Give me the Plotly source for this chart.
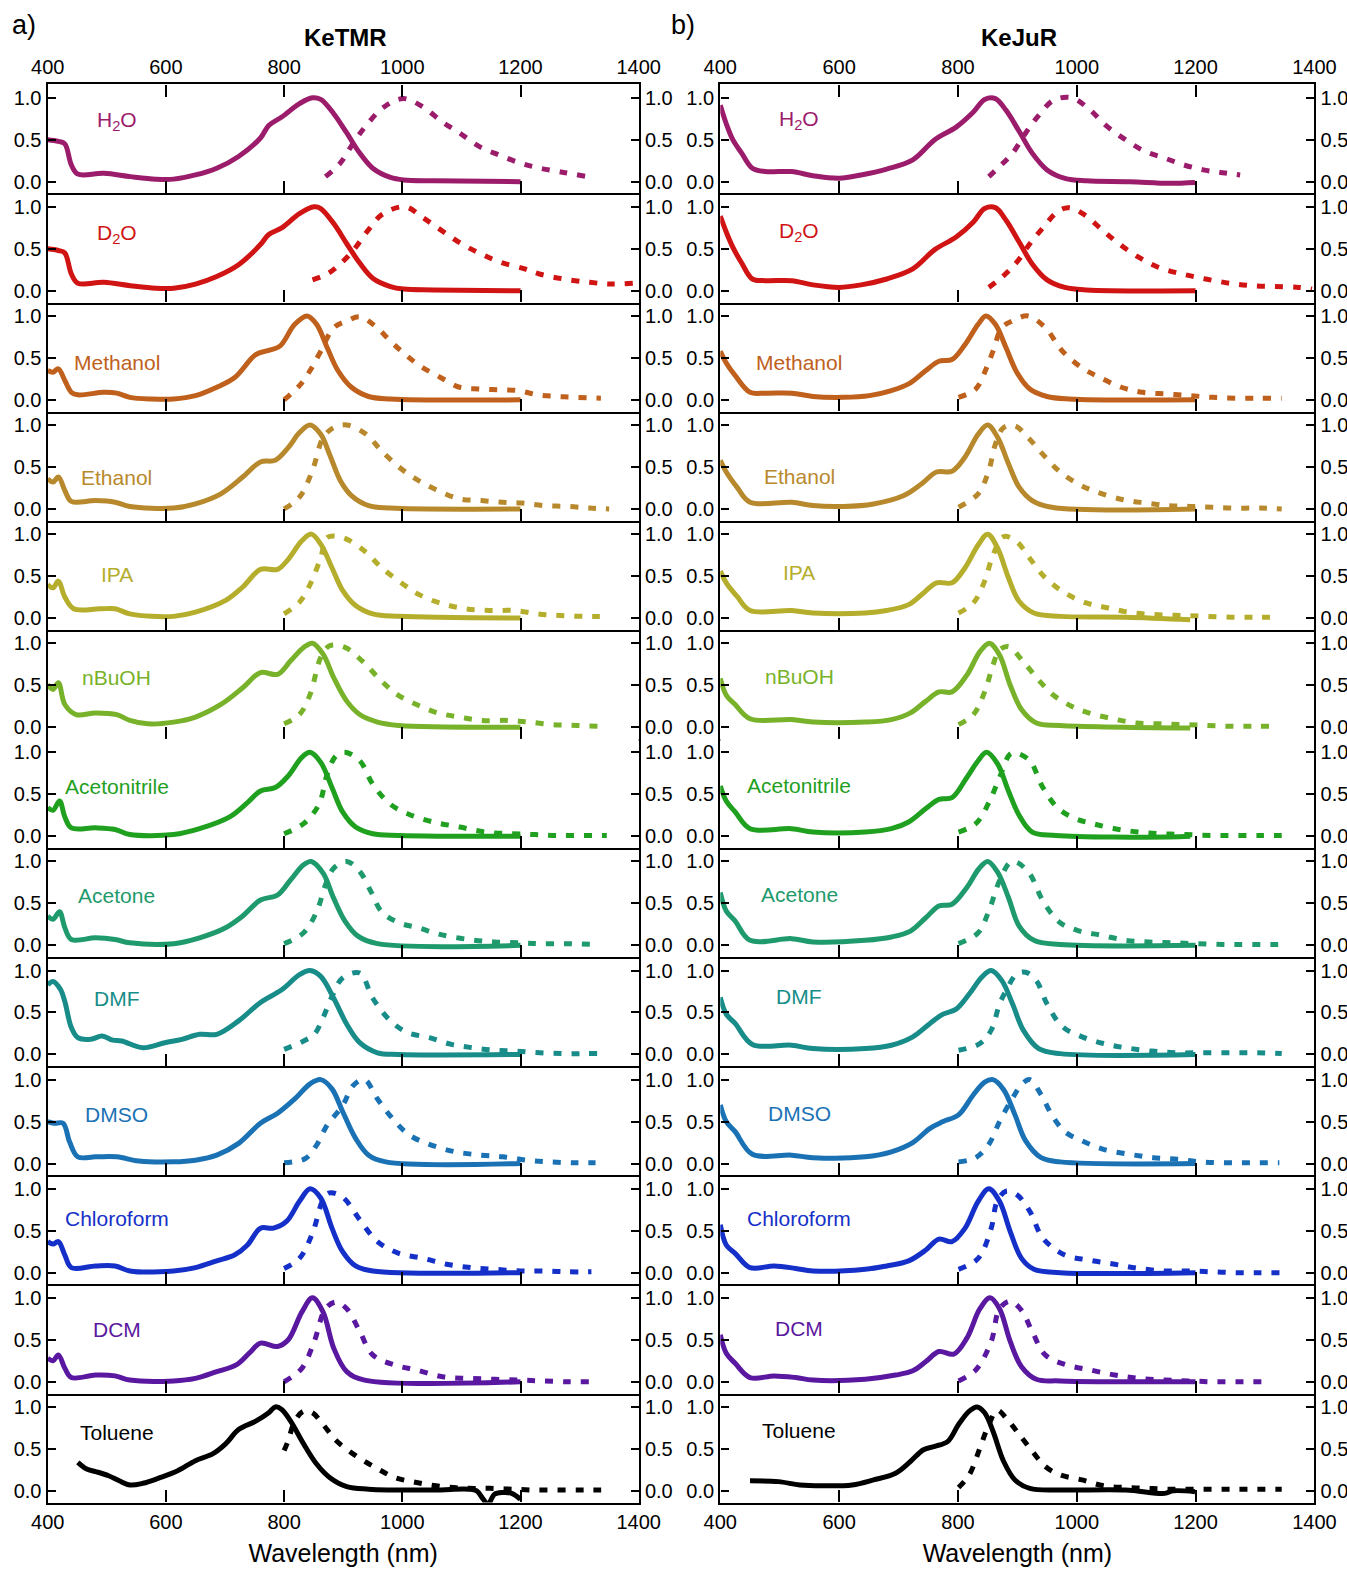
import plotly.graph_objects as go

# ---------------- data ----------------
SOLVENTS = ["H<sub>2</sub>O", "D<sub>2</sub>O", "Methanol", "Ethanol", "IPA", "nBuOH",
            "Acetonitrile", "Acetone", "DMF", "DMSO", "Chloroform", "DCM", "Toluene"]
COLORS = ["#9c1c6c", "#d01414", "#bf601c", "#b8892c", "#b5ad2c", "#78b22a",
          "#1fa01f", "#1f9a6c", "#178c88", "#1a72b5", "#1530c8", "#5a18a0", "#000000"]
DYES = ["KeTMR", "KeJuR"]
PANEL_TAGS = ["a)", "b)"]
X_TICKS = [400, 600, 800, 1000, 1200, 1400]
Y_TICKS = [0.0, 0.5, 1.0]
Y_TICK_TEXT = ["0.0", "0.5", "1.0"]
LABEL_Y_TMR = [0.72, 0.68, 0.44, 0.37, 0.52, 0.59, 0.59, 0.59, 0.67, 0.58, 0.64, 0.62, 0.70]
LABEL_Y_JUR = [0.74, 0.70, 0.45, 0.39, 0.54, 0.60, 0.60, 0.60, 0.69, 0.60, 0.65, 0.64, 0.72]
LABEL_X = [517, 533]

# ---- KeTMR ----
tmr_h2o_abs_x = [400,418,429,440,451,495,540,583,613,650,686,723,760,774,796,826,848,862,884,906,928,950,980,1002,1053,1200]
tmr_h2o_abs_y = [0.50,0.48,0.45,0.20,0.09,0.10,0.06,0.03,0.03,0.08,0.16,0.30,0.52,0.67,0.77,0.93,1.00,0.98,0.81,0.58,0.34,0.16,0.05,0.02,0.01,0.00]
tmr_h2o_em_x = [870,895,917,939,969,1002,1035,1068,1097,1130,1163,1200,1233,1273,1313]
tmr_h2o_em_y = [0.06,0.22,0.46,0.67,0.89,0.99,0.89,0.71,0.58,0.42,0.32,0.22,0.16,0.11,0.06]

tmr_d2o_abs_x = [400,418,429,440,451,495,540,583,613,650,686,723,760,774,796,826,851,862,884,906,928,950,980,1002,1053,1200]
tmr_d2o_abs_y = [0.50,0.48,0.45,0.20,0.09,0.10,0.06,0.03,0.03,0.08,0.17,0.31,0.55,0.67,0.75,0.92,1.00,0.98,0.80,0.56,0.33,0.15,0.05,0.02,0.01,0.00]
tmr_d2o_em_x = [848,873,895,917,941,966,1005,1035,1068,1100,1133,1166,1207,1232,1273,1317,1354,1390]
tmr_d2o_em_y = [0.13,0.20,0.32,0.48,0.71,0.91,1.00,0.87,0.71,0.56,0.44,0.34,0.26,0.20,0.14,0.10,0.08,0.09]

tmr_meoh_abs_x = [400,409,418,429,440,451,495,517,539,576,613,650,686,717,752,774,793,818,839,855,873,891,914,943,980,1200]
tmr_meoh_abs_y = [0.35,0.33,0.37,0.23,0.09,0.06,0.09,0.08,0.03,0.01,0.01,0.05,0.15,0.27,0.54,0.59,0.64,0.90,1.00,0.90,0.62,0.35,0.15,0.04,0.01,0.00]
tmr_meoh_em_x = [800,826,844,862,884,906,928,954,980,1005,1031,1064,1097,1130,1163,1196,1229,1262,1295,1336]
tmr_meoh_em_y = [0.00,0.17,0.35,0.58,0.86,0.94,0.99,0.88,0.70,0.54,0.40,0.27,0.15,0.13,0.12,0.11,0.06,0.04,0.03,0.02]

tmr_etoh_abs_x = [400,409,418,429,440,481,514,539,613,650,693,730,760,785,807,826,844,862,877,895,914,943,980,1200]
tmr_etoh_abs_y = [0.36,0.32,0.38,0.22,0.09,0.10,0.08,0.03,0.01,0.06,0.18,0.38,0.56,0.58,0.73,0.91,1.00,0.89,0.65,0.34,0.16,0.04,0.01,0.00]
tmr_etoh_em_x = [800,826,848,866,884,906,939,965,998,1027,1060,1097,1134,1170,1203,1240,1280,1317,1350]
tmr_etoh_em_y = [0.00,0.14,0.46,0.85,0.97,1.00,0.89,0.69,0.48,0.34,0.22,0.12,0.10,0.08,0.07,0.04,0.03,0.01,0.00]

tmr_ipa_abs_x = [400,409,418,429,444,488,514,539,576,613,650,701,730,760,789,807,830,846,862,881,899,921,950,994,1200]
tmr_ipa_abs_y = [0.40,0.36,0.44,0.25,0.11,0.11,0.11,0.05,0.02,0.02,0.07,0.21,0.37,0.58,0.58,0.70,0.92,1.00,0.88,0.60,0.33,0.15,0.05,0.02,0.00]
tmr_ipa_em_x = [800,826,844,862,873,899,936,965,1002,1031,1068,1108,1148,1189,1229,1266,1306,1346]
tmr_ipa_em_y = [0.05,0.19,0.40,0.72,0.96,0.96,0.80,0.60,0.40,0.27,0.17,0.11,0.09,0.09,0.05,0.03,0.02,0.02]

tmr_buoh_abs_x = [400,409,418,429,448,481,517,539,569,613,650,693,730,760,789,811,833,848,866,884,906,928,958,994,1200]
tmr_buoh_abs_y = [0.51,0.45,0.53,0.27,0.15,0.17,0.15,0.08,0.04,0.06,0.12,0.27,0.47,0.65,0.63,0.79,0.95,1.00,0.87,0.59,0.31,0.15,0.06,0.02,0.00]
tmr_buoh_em_x = [800,826,844,862,877,903,932,962,991,1024,1060,1097,1134,1178,1214,1255,1295,1336]
tmr_buoh_em_y = [0.04,0.15,0.39,0.83,0.97,0.95,0.79,0.57,0.39,0.27,0.17,0.12,0.08,0.08,0.06,0.03,0.02,0.01]

tmr_acn_abs_x = [400,409,420,429,440,481,514,539,613,657,708,738,760,785,807,830,844,862,881,899,921,950,994,1200]
tmr_acn_abs_y = [0.34,0.31,0.42,0.23,0.10,0.10,0.08,0.02,0.02,0.09,0.23,0.40,0.54,0.58,0.72,0.94,1.00,0.88,0.58,0.29,0.11,0.03,0.01,0.00]
tmr_acn_em_x = [800,833,859,873,888,903,928,950,980,1012,1052,1097,1141,1185,1225,1261,1302,1346]
tmr_acn_em_y = [0.03,0.15,0.38,0.74,0.96,1.00,0.90,0.62,0.38,0.26,0.17,0.11,0.05,0.03,0.02,0.01,0.01,0.01]

tmr_acetone_abs_x = [400,409,420,429,440,481,514,539,613,657,701,730,760,789,811,833,846,866,884,903,925,958,1200]
tmr_acetone_abs_y = [0.35,0.31,0.40,0.21,0.07,0.09,0.07,0.03,0.02,0.09,0.21,0.35,0.54,0.60,0.78,0.96,1.00,0.86,0.56,0.29,0.11,0.02,0.00]
tmr_acetone_em_x = [800,833,855,870,884,906,928,947,965,994,1027,1064,1112,1156,1200,1232,1276,1324]
tmr_acetone_em_y = [0.02,0.15,0.40,0.72,0.92,1.00,0.88,0.64,0.40,0.27,0.21,0.13,0.07,0.04,0.03,0.02,0.02,0.01]

tmr_dmf_abs_x = [400,409,422,429,440,451,473,492,510,525,561,598,627,657,686,723,760,796,826,844,862,884,906,928,958,994,1200]
tmr_dmf_abs_y = [0.83,0.87,0.77,0.63,0.32,0.20,0.18,0.22,0.17,0.16,0.08,0.14,0.18,0.24,0.24,0.40,0.62,0.77,0.95,1.00,0.93,0.67,0.36,0.14,0.02,0.00,0.00]
tmr_dmf_em_x = [800,833,851,866,881,899,928,950,980,1009,1046,1083,1119,1156,1193,1233,1273,1310,1346]
tmr_dmf_em_y = [0.06,0.16,0.24,0.44,0.69,0.91,0.97,0.67,0.40,0.26,0.20,0.12,0.08,0.05,0.04,0.02,0.01,0.01,0.01]

tmr_dmso_abs_x = [400,411,426,437,451,481,517,554,613,650,686,723,760,789,818,844,862,881,899,921,943,972,1200]
tmr_dmso_abs_y = [0.50,0.48,0.48,0.26,0.08,0.08,0.08,0.03,0.02,0.04,0.10,0.24,0.48,0.60,0.77,0.95,1.00,0.89,0.62,0.30,0.10,0.02,0.00]
tmr_dmso_em_x = [800,836,855,873,899,917,936,958,983,1012,1049,1090,1134,1170,1211,1247,1287,1327]
tmr_dmso_em_y = [0.01,0.06,0.22,0.46,0.69,0.93,1.00,0.77,0.54,0.34,0.22,0.14,0.10,0.08,0.04,0.02,0.01,0.01]

tmr_chcl3_abs_x = [400,409,418,429,440,481,514,539,613,650,686,716,738,760,782,804,826,844,862,881,899,921,950,1200]
tmr_chcl3_abs_y = [0.37,0.34,0.37,0.21,0.06,0.08,0.08,0.02,0.02,0.06,0.14,0.21,0.33,0.53,0.53,0.61,0.85,1.00,0.89,0.53,0.25,0.08,0.02,0.00]
tmr_chcl3_em_x = [800,826,848,866,877,899,928,958,994,1035,1075,1116,1156,1200,1236,1280,1320]
tmr_chcl3_em_y = [0.05,0.17,0.47,0.87,0.95,0.90,0.63,0.37,0.23,0.17,0.10,0.06,0.04,0.02,0.02,0.01,0.01]

tmr_dcm_abs_x = [400,409,418,429,440,481,514,539,613,650,686,719,741,760,789,807,830,848,866,884,906,936,1200]
tmr_dcm_abs_y = [0.28,0.25,0.32,0.16,0.05,0.08,0.07,0.02,0.01,0.04,0.12,0.20,0.34,0.46,0.42,0.50,0.83,1.00,0.83,0.40,0.12,0.02,0.00]
tmr_dcm_em_x = [800,830,851,870,888,906,928,950,987,1024,1068,1112,1156,1200,1236,1280,1320]
tmr_dcm_em_y = [0.00,0.16,0.48,0.87,0.95,0.87,0.60,0.32,0.20,0.14,0.06,0.04,0.03,0.02,0.01,0.00,0.00]

tmr_tol_abs_x = [451,466,481,503,521,539,561,591,620,650,679,701,723,752,774,785,796,811,833,855,877,906,943,1053,1112,1126,1137,1145,1156,1170,1185,1200]
tmr_tol_abs_y = [0.34,0.26,0.23,0.18,0.12,0.07,0.09,0.16,0.24,0.36,0.44,0.56,0.73,0.83,0.93,1.00,0.97,0.83,0.56,0.32,0.16,0.05,0.02,0.01,0.02,0.00,-0.10,-0.16,-0.04,-0.02,-0.03,-0.10]
tmr_tol_em_x = [800,807,818,833,848,866,888,921,954,987,1024,1068,1112,1148,1185,1222,1266,1310,1346]
tmr_tol_em_y = [0.48,0.60,0.83,0.95,0.93,0.79,0.60,0.42,0.28,0.16,0.10,0.05,0.03,0.03,0.02,0.01,0.01,0.01,0.01]

# ---- KeJuR ----
jur_h2o_abs_x = [400,410,421,436,454,476,520,556,600,637,680,724,761,797,826,845,863,881,903,925,950,980,1016,1089,1155,1199]
jur_h2o_abs_y = [0.91,0.69,0.50,0.34,0.16,0.12,0.12,0.07,0.04,0.08,0.15,0.26,0.50,0.65,0.83,0.98,0.99,0.85,0.60,0.34,0.14,0.04,0.01,0.00,-0.02,-0.01]
jur_h2o_em_x = [852,870,892,914,936,961,991,1020,1049,1082,1115,1148,1180,1213,1242,1275]
jur_h2o_em_y = [0.06,0.18,0.34,0.58,0.79,0.97,1.00,0.87,0.67,0.50,0.36,0.28,0.20,0.14,0.11,0.08]

jur_d2o_abs_x = [400,410,421,436,454,476,520,556,600,637,680,724,761,797,826,845,863,881,903,925,950,980,1016,1200]
jur_d2o_abs_y = [0.89,0.70,0.52,0.33,0.14,0.12,0.12,0.07,0.04,0.07,0.14,0.26,0.49,0.64,0.82,0.98,0.99,0.84,0.58,0.32,0.13,0.04,0.01,0.00]
jur_d2o_em_x = [852,874,899,921,943,969,987,1012,1042,1071,1104,1137,1177,1217,1257,1294,1334,1374,1396]
jur_d2o_em_y = [0.04,0.16,0.34,0.56,0.75,0.95,0.99,0.91,0.73,0.56,0.40,0.28,0.20,0.14,0.09,0.06,0.05,0.04,0.02]

jur_meoh_abs_x = [400,410,425,450,476,520,556,607,651,688,717,746,768,790,812,834,847,863,881,899,921,950,987,1200]
jur_meoh_abs_y = [0.58,0.44,0.29,0.09,0.08,0.08,0.04,0.03,0.05,0.11,0.19,0.35,0.46,0.48,0.66,0.90,1.00,0.90,0.62,0.33,0.13,0.04,0.01,0.00]
jur_meoh_em_x = [801,830,848,859,874,892,918,947,976,1009,1038,1075,1111,1151,1191,1228,1268,1308,1345]
jur_meoh_em_y = [0.03,0.13,0.38,0.58,0.86,0.94,1.00,0.86,0.58,0.38,0.27,0.15,0.09,0.07,0.05,0.03,0.02,0.02,0.02]

jur_etoh_abs_x = [400,410,428,450,520,556,607,658,709,739,764,790,812,834,850,867,885,903,925,958,1200]
jur_etoh_abs_y = [0.58,0.44,0.26,0.08,0.08,0.04,0.03,0.06,0.16,0.30,0.44,0.45,0.62,0.89,1.00,0.85,0.54,0.26,0.10,0.02,0.00]
jur_etoh_em_x = [801,834,852,863,877,896,918,943,972,1002,1034,1078,1118,1155,1191,1228,1268,1308,1345]
jur_etoh_em_y = [0.02,0.18,0.46,0.77,0.97,0.99,0.85,0.65,0.44,0.30,0.20,0.11,0.07,0.04,0.03,0.02,0.01,0.01,0.00]

jur_ipa_abs_x = [400,410,428,450,520,556,644,680,717,739,764,790,812,834,850,867,885,903,928,972,1082,1191]
jur_ipa_abs_y = [0.56,0.42,0.26,0.09,0.09,0.06,0.06,0.09,0.16,0.28,0.42,0.42,0.60,0.87,1.00,0.83,0.48,0.20,0.06,0.02,0.01,-0.02]
jur_ipa_em_x = [801,826,845,859,877,899,921,947,980,1016,1053,1096,1137,1177,1217,1261,1301,1341]
jur_ipa_em_y = [0.06,0.18,0.44,0.75,0.97,0.91,0.71,0.48,0.30,0.18,0.12,0.06,0.04,0.03,0.02,0.01,0.01,0.01]

jur_buoh_abs_x = [400,410,425,450,520,556,644,688,720,746,768,790,815,837,853,870,888,907,932,972,1191]
jur_buoh_abs_y = [0.58,0.38,0.27,0.10,0.09,0.06,0.06,0.09,0.17,0.31,0.42,0.42,0.62,0.90,1.00,0.86,0.50,0.21,0.05,0.02,-0.01]
jur_buoh_em_x = [801,826,845,859,870,885,910,936,961,991,1020,1060,1100,1140,1180,1221,1261,1301,1341]
jur_buoh_em_y = [0.03,0.15,0.42,0.74,0.92,0.96,0.78,0.56,0.38,0.25,0.17,0.10,0.05,0.04,0.03,0.02,0.01,0.01,0.01]

jur_acn_abs_x = [400,410,425,450,520,556,644,688,717,746,768,790,815,834,848,867,885,903,925,965,1155,1191]
jur_acn_abs_y = [0.60,0.42,0.29,0.09,0.09,0.05,0.05,0.09,0.17,0.33,0.44,0.46,0.70,0.90,1.00,0.86,0.54,0.25,0.05,0.01,-0.01,0.00]
jur_acn_em_x = [801,830,852,870,888,899,921,943,969,998,1027,1064,1104,1144,1184,1228,1268,1308,1345]
jur_acn_em_y = [0.05,0.15,0.40,0.70,0.98,0.99,0.90,0.58,0.33,0.21,0.15,0.09,0.05,0.03,0.02,0.01,0.01,0.01,0.01]

jur_acetone_abs_x = [400,410,425,450,520,556,644,688,720,746,768,790,815,835,850,867,885,903,928,972,1200]
jur_acetone_abs_y = [0.63,0.41,0.29,0.06,0.08,0.04,0.06,0.10,0.17,0.33,0.47,0.49,0.69,0.91,1.00,0.87,0.57,0.23,0.06,0.01,0.00]
jur_acetone_em_x = [801,834,852,870,888,899,921,943,972,1005,1042,1082,1122,1162,1202,1246,1286,1345]
jur_acetone_em_y = [0.02,0.15,0.41,0.77,0.99,0.99,0.85,0.53,0.27,0.17,0.12,0.06,0.04,0.03,0.02,0.01,0.01,0.01]

jur_dmf_abs_x = [400,410,425,454,520,556,644,688,724,753,775,797,819,840,856,874,892,910,936,972,1200]
jur_dmf_abs_y = [0.68,0.48,0.37,0.12,0.11,0.07,0.07,0.11,0.21,0.37,0.48,0.54,0.72,0.92,1.00,0.88,0.60,0.29,0.07,0.01,0.00]
jur_dmf_em_x = [801,837,856,870,881,899,914,932,950,976,1009,1045,1082,1126,1170,1217,1264,1304,1345]
jur_dmf_em_y = [0.05,0.13,0.29,0.60,0.76,0.96,0.98,0.88,0.60,0.33,0.21,0.13,0.08,0.04,0.02,0.02,0.02,0.02,0.01]

jur_dmso_abs_x = [400,410,425,454,520,556,644,688,724,753,775,801,826,845,859,877,896,914,940,972,1200]
jur_dmso_abs_y = [0.70,0.50,0.38,0.11,0.10,0.07,0.08,0.14,0.25,0.42,0.50,0.58,0.82,0.97,1.00,0.88,0.58,0.27,0.07,0.02,0.00]
jur_dmso_em_x = [801,830,852,870,892,907,921,940,958,980,1009,1045,1089,1129,1170,1210,1254,1297,1341]
jur_dmso_em_y = [0.02,0.07,0.23,0.50,0.78,0.94,1.00,0.82,0.58,0.38,0.27,0.17,0.11,0.07,0.05,0.02,0.01,0.01,0.01]

jur_chcl3_abs_x = [400,410,425,450,491,527,556,644,680,717,746,768,790,812,834,852,870,888,907,928,972,1200]
jur_chcl3_abs_y = [0.57,0.33,0.23,0.06,0.08,0.05,0.02,0.04,0.08,0.14,0.27,0.40,0.37,0.53,0.85,1.00,0.85,0.49,0.17,0.04,0.00,0.00]
jur_chcl3_em_x = [801,834,856,866,881,899,921,943,980,1020,1064,1104,1148,1188,1228,1268,1308,1345]
jur_chcl3_em_y = [0.04,0.17,0.53,0.85,0.97,0.93,0.73,0.41,0.21,0.15,0.10,0.05,0.02,0.02,0.01,0.00,0.00,0.00]

jur_dcm_abs_x = [400,410,425,450,491,527,556,644,695,724,746,768,793,815,837,854,870,888,907,932,972,1200]
jur_dcm_abs_y = [0.56,0.34,0.22,0.05,0.07,0.05,0.02,0.03,0.08,0.13,0.24,0.36,0.33,0.52,0.87,1.00,0.87,0.48,0.18,0.03,0.01,0.00]
jur_dcm_em_x = [801,830,856,870,888,907,925,947,983,1023,1064,1104,1148,1188,1228,1272,1316]
jur_dcm_em_y = [0.01,0.14,0.48,0.87,0.96,0.85,0.60,0.32,0.20,0.14,0.08,0.04,0.02,0.01,0.00,0.00,0.00]

jur_tol_abs_x = [450,498,534,571,622,658,695,720,742,761,783,801,819,832,845,859,877,896,921,972,1082,1148,1162,1199]
jur_tol_abs_y = [0.12,0.11,0.07,0.06,0.07,0.13,0.21,0.35,0.49,0.53,0.59,0.79,0.95,1.00,0.93,0.71,0.35,0.13,0.03,0.01,0.01,-0.03,0.00,-0.01]
jur_tol_em_x = [801,819,837,852,866,881,899,921,947,972,1009,1045,1082,1118,1155,1199,1242,1286,1345]
jur_tol_em_y = [0.04,0.19,0.51,0.79,0.96,0.87,0.71,0.51,0.29,0.19,0.13,0.06,0.04,0.03,0.02,0.02,0.02,0.02,0.02]

TMR_CURVES = [
    (tmr_h2o_abs_x, tmr_h2o_abs_y, tmr_h2o_em_x, tmr_h2o_em_y),
    (tmr_d2o_abs_x, tmr_d2o_abs_y, tmr_d2o_em_x, tmr_d2o_em_y),
    (tmr_meoh_abs_x, tmr_meoh_abs_y, tmr_meoh_em_x, tmr_meoh_em_y),
    (tmr_etoh_abs_x, tmr_etoh_abs_y, tmr_etoh_em_x, tmr_etoh_em_y),
    (tmr_ipa_abs_x, tmr_ipa_abs_y, tmr_ipa_em_x, tmr_ipa_em_y),
    (tmr_buoh_abs_x, tmr_buoh_abs_y, tmr_buoh_em_x, tmr_buoh_em_y),
    (tmr_acn_abs_x, tmr_acn_abs_y, tmr_acn_em_x, tmr_acn_em_y),
    (tmr_acetone_abs_x, tmr_acetone_abs_y, tmr_acetone_em_x, tmr_acetone_em_y),
    (tmr_dmf_abs_x, tmr_dmf_abs_y, tmr_dmf_em_x, tmr_dmf_em_y),
    (tmr_dmso_abs_x, tmr_dmso_abs_y, tmr_dmso_em_x, tmr_dmso_em_y),
    (tmr_chcl3_abs_x, tmr_chcl3_abs_y, tmr_chcl3_em_x, tmr_chcl3_em_y),
    (tmr_dcm_abs_x, tmr_dcm_abs_y, tmr_dcm_em_x, tmr_dcm_em_y),
    (tmr_tol_abs_x, tmr_tol_abs_y, tmr_tol_em_x, tmr_tol_em_y),
]
JUR_CURVES = [
    (jur_h2o_abs_x, jur_h2o_abs_y, jur_h2o_em_x, jur_h2o_em_y),
    (jur_d2o_abs_x, jur_d2o_abs_y, jur_d2o_em_x, jur_d2o_em_y),
    (jur_meoh_abs_x, jur_meoh_abs_y, jur_meoh_em_x, jur_meoh_em_y),
    (jur_etoh_abs_x, jur_etoh_abs_y, jur_etoh_em_x, jur_etoh_em_y),
    (jur_ipa_abs_x, jur_ipa_abs_y, jur_ipa_em_x, jur_ipa_em_y),
    (jur_buoh_abs_x, jur_buoh_abs_y, jur_buoh_em_x, jur_buoh_em_y),
    (jur_acn_abs_x, jur_acn_abs_y, jur_acn_em_x, jur_acn_em_y),
    (jur_acetone_abs_x, jur_acetone_abs_y, jur_acetone_em_x, jur_acetone_em_y),
    (jur_dmf_abs_x, jur_dmf_abs_y, jur_dmf_em_x, jur_dmf_em_y),
    (jur_dmso_abs_x, jur_dmso_abs_y, jur_dmso_em_x, jur_dmso_em_y),
    (jur_chcl3_abs_x, jur_chcl3_abs_y, jur_chcl3_em_x, jur_chcl3_em_y),
    (jur_dcm_abs_x, jur_dcm_abs_y, jur_dcm_em_x, jur_dcm_em_y),
    (jur_tol_abs_x, jur_tol_abs_y, jur_tol_em_x, jur_tol_em_y),
]

# ---------------- layout geometry (pixels) ----------------
W, H = 1347, 1570
PANEL_X = [(47.7, 638.7), (720.3, 1314.4)]
ROW_TOP = 84.3
ROW_H = 109.1
NROWS = 13
NPLOTS = 2 * NROWS
FONT = "Arial, 'Liberation Sans', sans-serif"
TICK_FONT = dict(family=FONT, size=20, color="black")
LW = 2.4

fig = go.Figure()
layout = dict(
    width=W, height=H,
    margin=dict(l=0, r=0, t=0, b=0, autoexpand=False),
    paper_bgcolor="white", plot_bgcolor="white",
    showlegend=False,
    font=dict(family=FONT, color="black"),
)
annotations = []

for p, curves in enumerate([TMR_CURVES, JUR_CURVES]):
    x0, x1 = PANEL_X[p]
    label_y = LABEL_Y_TMR if p == 0 else LABEL_Y_JUR
    for r in range(NROWS):
        k = p * NROWS + r + 1
        kr = NPLOTS + k
        top = ROW_TOP + r * ROW_H
        bot = top + ROW_H
        xd = [x0 / W, x1 / W]
        yd = [1 - bot / H, 1 - top / H]

        xa = dict(domain=xd, range=[400, 1400], anchor=f"y{k}", tickvals=X_TICKS,
                  ticks="inside", ticklen=12, tickwidth=LW, tickcolor="black",
                  showline=True, linewidth=LW, linecolor="black", automargin=False,
                  showgrid=False, zeroline=False, tickfont=TICK_FONT)
        if r == 0:
            xa.update(side="top", showticklabels=True, mirror="ticks")
        elif r == NROWS - 1:
            xa.update(side="bottom", showticklabels=True, mirror=False,
                      title=dict(text="Wavelength (nm)", font=dict(family=FONT, size=25),
                                 standoff=13))
        else:
            xa.update(side="bottom", showticklabels=False, mirror=False)

        ya = dict(domain=yd, range=[-0.14, 1.16], anchor=f"x{k}", tickvals=Y_TICKS,
                  ticktext=Y_TICK_TEXT, ticks="inside", ticklen=8, tickwidth=LW,
                  tickcolor="black", showline=True, linewidth=LW, linecolor="black",
                  automargin=False,
                  showgrid=False, zeroline=False, side="left", tickfont=TICK_FONT)
        ya2 = dict(range=[-0.14, 1.16], anchor=f"x{k}", overlaying=f"y{k}", side="right",
                   tickvals=Y_TICKS, ticktext=Y_TICK_TEXT, ticks="inside", ticklen=8,
                   tickwidth=LW, tickcolor="black", showline=True, linewidth=LW,
                   linecolor="black", automargin=False,
                   showgrid=False, zeroline=False, tickfont=TICK_FONT)
        layout[f"xaxis{k}"] = xa
        layout[f"yaxis{k}"] = ya
        layout[f"yaxis{kr}"] = ya2

        ax, ay, ex, ey = curves[r]
        color = COLORS[r]
        fig.add_trace(go.Scatter(x=ax, y=ay, mode="lines", xaxis=f"x{k}", yaxis=f"y{k}",
                                 line=dict(color=color, width=5, shape="spline", smoothing=1.0),
                                 hoverinfo="skip"))
        fig.add_trace(go.Scatter(x=ex, y=ey, mode="lines", xaxis=f"x{k}", yaxis=f"y{kr}",
                                 line=dict(color=color, width=5, dash="8px,10px",
                                           shape="spline", smoothing=1.0),
                                 hoverinfo="skip"))
        annotations.append(dict(text=SOLVENTS[r], x=LABEL_X[p], y=label_y[r],
                                xref=f"x{k}", yref=f"y{k}", showarrow=False,
                                font=dict(family=FONT, size=21, color=color),
                                xanchor="center", yanchor="middle"))

    cx = (x0 + x1) / 2
    annotations.append(dict(text=f"<b>{DYES[p]}</b>", x=(cx + 2) / W, y=1 - 38 / H,
                            xref="paper", yref="paper", showarrow=False,
                            font=dict(family=FONT, size=24, color="black"),
                            xanchor="center", yanchor="middle"))
    annotations.append(dict(text=PANEL_TAGS[p], x=(10 if p == 0 else 669) / W, y=1 - 25 / H,
                            xref="paper", yref="paper", showarrow=False,
                            font=dict(family=FONT, size=27, color="black"),
                            xanchor="left", yanchor="middle"))

layout["annotations"] = annotations
fig.update_layout(**layout)
fig.write_html("out.html")
